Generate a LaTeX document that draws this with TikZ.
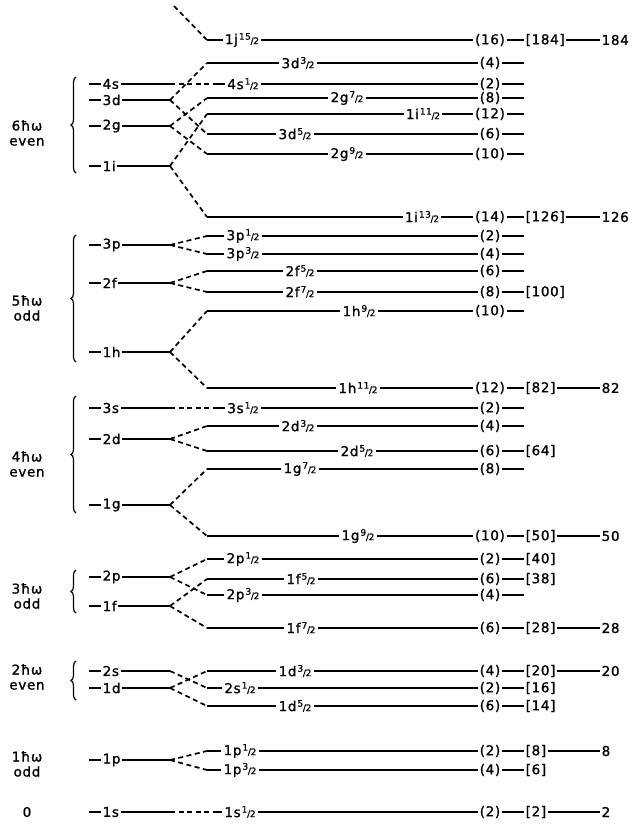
\documentclass[tikz,border=0pt]{standalone}
\usepackage{fontspec}
\setmainfont[LetterSpace=5,FakeBold=1.2]{DejaVu Sans}
\usepackage{tikz}
\usetikzlibrary{decorations.pathreplacing,positioning}

\newcommand\lbl{\fontsize{13.5}{15}\selectfont}
\newcommand\fsz{\fontsize{9}{9}\selectfont}
\newcommand\jfr[1]{\kern1pt\raisebox{.6ex}{\fsz#1}\kern-.3pt{\fsz/}\kern-.3pt{\fsz 2}}

% left level: orbital, y
\newcommand\llev[2]{%
  \coordinate (d#1) at (89,#2);
  \node[orb,anchor=west] (l#1) at (101,#2) {#1};
  \coordinate (a#1) at (170,#2);
  \draw[lev] (d#1) -- (l#1) (l#1) -- (a#1);}

% right level: orbital, 2j, y, label x, occupancy, start x
\newcommand\rlev[6]{%
  \coordinate (s#1#2) at (#6,#3);
  \node[jlab] (j#1#2) at (#4,#3) {#1\jfr{#2}};
  \node[occ] (o#1#2) at (490,#3) {(#5)};
  \coordinate (t#1#2) at (524,#3);
  \draw[lev] (s#1#2) -- (j#1#2) (j#1#2) -- (o#1#2) (o#1#2) -- (t#1#2);}

% running total, and magic number
\newcommand\tot[2]{%
  \node[occ,anchor=west] (b#1) at (t#1) {[#2]};
  \draw[lev] (o#1) -- (b#1);}
\newcommand\magic[2]{%
  \node[occ,anchor=west] (m#1) at (b#1 -| rim) {#2};
  \draw[lev] (b#1) -- (m#1);}

\begin{document}
\begin{tikzpicture}[x=1pt,y=-1pt,
    lev/.style={line width=2.4pt},
    split/.style={line width=1.7pt,dash pattern=on 5pt off 3.5pt},
    orb/.style={inner sep=1.5pt,font=\lbl},
    jlab/.style={inner sep=2pt,font=\lbl},
    occ/.style={inner sep=1.5pt,font=\lbl},
    grp/.style={align=center,inner sep=0pt,font=\lbl},
    shellbrace/.style={decorate,decoration={brace,amplitude=5pt},line width=1.2pt}]
    \useasboundingbox (0,0) rectangle (632,840);
    \coordinate (rim) at (600,0);
    \coordinate (up) at (174,6);

    \node[grp] (g6) at (27,133) {6ħω\\even};
    \node[grp] (g5) at (27,308) {5ħω\\odd};
    \node[grp] (g4) at (27,464) {4ħω\\even};
    \node[grp] (g3) at (27,596) {3ħω\\odd};
    \node[grp] (g2) at (27,677) {2ħω\\even};
    \node[grp] (g1) at (27,764) {1ħω\\odd};
    \node[grp] (g0) at (27,812) {0};

    \draw[shellbrace] (76,173) -- (76,77);
    \draw[shellbrace] (76,362) -- (76,235);
    \draw[shellbrace] (76,513) -- (76,396);
    \draw[shellbrace] (76,613) -- (76,570);
    \draw[shellbrace] (76,700) -- (76,661);

    \llev{4s}{84}  \llev{3d}{100} \llev{2g}{126} \llev{1i}{166}
    \llev{3p}{245} \llev{2f}{283} \llev{1h}{352}
    \llev{3s}{408} \llev{2d}{439} \llev{1g}{505}
    \llev{2p}{577} \llev{1f}{606}
    \llev{2s}{671} \llev{1d}{688}
    \llev{1p}{760}
    \llev{1s}{812}

    \rlev{1j}{15}{40}{242}{16}{207}
    \rlev{3d}{3}{63}{298}{4}{207}
    \rlev{4s}{1}{84}{243}{2}{215}
    \rlev{2g}{7}{98}{347}{8}{207}
    \rlev{1i}{11}{114}{423}{12}{207}
    \rlev{3d}{5}{134}{295}{6}{207}
    \rlev{2g}{9}{154}{347}{10}{207}
    \rlev{1i}{13}{217}{422}{14}{207}
    \rlev{3p}{1}{236}{243}{2}{207}
    \rlev{3p}{3}{254}{243}{4}{207}
    \rlev{2f}{5}{271}{300}{6}{207}
    \rlev{2f}{7}{292}{300}{8}{207}
    \rlev{1h}{9}{311}{359}{10}{207}
    \rlev{1h}{11}{388}{358}{12}{207}
    \rlev{3s}{1}{408}{243}{2}{215}
    \rlev{2d}{3}{426}{298}{4}{207}
    \rlev{2d}{5}{451}{357}{6}{207}
    \rlev{1g}{7}{469}{300}{8}{207}
    \rlev{1g}{9}{536}{358}{10}{207}
    \rlev{2p}{1}{559}{243}{2}{207}
    \rlev{1f}{5}{579}{301}{6}{207}
    \rlev{2p}{3}{595}{243}{4}{207}
    \rlev{1f}{7}{628}{301}{6}{207}
    \rlev{1d}{3}{671}{295}{4}{207}
    \rlev{2s}{1}{688}{240}{2}{207}
    \rlev{1d}{5}{706}{295}{6}{207}
    \rlev{1p}{1}{751}{240}{2}{207}
    \rlev{1p}{3}{770}{240}{4}{207}
    \rlev{1s}{1}{812}{240}{2}{215}

    \tot{1j15}{184} \tot{1i13}{126} \tot{2f7}{100} \tot{1h11}{82}
    \tot{2d5}{64} \tot{1g9}{50} \tot{2p1}{40} \tot{1f5}{38} \tot{1f7}{28}
    \tot{1d3}{20} \tot{2s1}{16} \tot{1d5}{14} \tot{1p1}{8} \tot{1p3}{6}
    \tot{1s1}{2}

    \magic{1j15}{184} \magic{1i13}{126} \magic{1h11}{82} \magic{1g9}{50}
    \magic{1f7}{28} \magic{1d3}{20} \magic{1p1}{8} \magic{1s1}{2}

    % spin-orbit splitting
    \draw[split] (up) -- (s1j15);
    \draw[split] (a4s) -- (s4s1);
    \draw[split] (a3d) -- (s3d3) (a3d) -- (s3d5);
    \draw[split] (a2g) -- (s2g7) (a2g) -- (s2g9);
    \draw[split] (a1i) -- (s1i11) (a1i) -- (s1i13);
    \draw[split] (a3p) -- (s3p1) (a3p) -- (s3p3);
    \draw[split] (a2f) -- (s2f5) (a2f) -- (s2f7);
    \draw[split] (a1h) -- (s1h9) (a1h) -- (s1h11);
    \draw[split] (a3s) -- (s3s1);
    \draw[split] (a2d) -- (s2d3) (a2d) -- (s2d5);
    \draw[split] (a1g) -- (s1g7) (a1g) -- (s1g9);
    \draw[split] (a2p) -- (s2p1) (a2p) -- (s2p3);
    \draw[split] (a1f) -- (s1f5) (a1f) -- (s1f7);
    \draw[split] (a2s) -- (s2s1);
    \draw[split] (a1d) -- (s1d3) (a1d) -- (s1d5);
    \draw[split] (a1p) -- (s1p1) (a1p) -- (s1p3);
    \draw[split] (a1s) -- (s1s1);
\end{tikzpicture}
\end{document}
